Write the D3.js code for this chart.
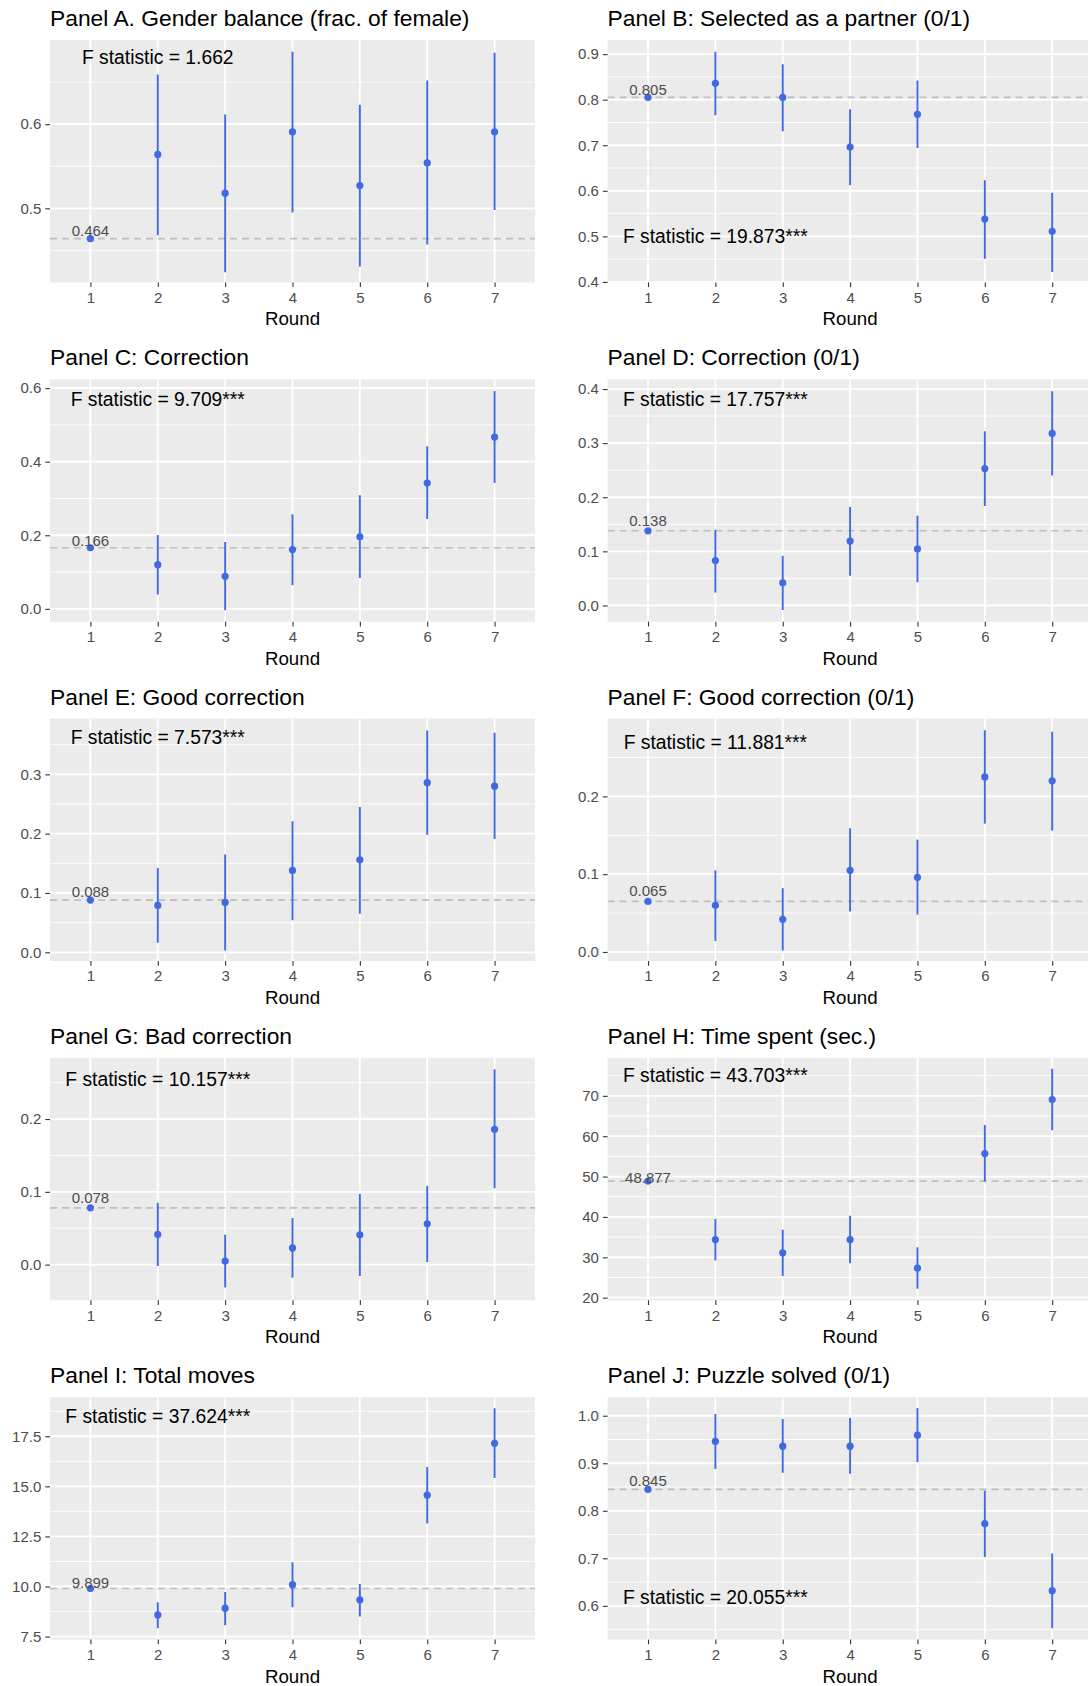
<!DOCTYPE html>
<html>
<head>
<meta charset="utf-8">
<script src="https://cdn.jsdelivr.net/npm/d3@7"></script>
<style>
  html, body { margin: 0; padding: 0; background: #ffffff; }
  svg { display: block; font-family: "Liberation Sans", Arial, Helvetica, sans-serif; }
</style>
</head>
<body>
<div id="chart"></div>
<script>
// ---------------- DATA ----------------
const rounds = [1, 2, 3, 4, 5, 6, 7];

const panelTitles = [
  "Panel A. Gender balance (frac. of female)",
  "Panel B: Selected as a partner (0/1)",
  "Panel C: Correction",
  "Panel D: Correction (0/1)",
  "Panel E: Good correction",
  "Panel F: Good correction (0/1)",
  "Panel G: Bad correction",
  "Panel H: Time spent (sec.)",
  "Panel I: Total moves",
  "Panel J: Puzzle solved (0/1)"
];

const fStatLabels = [
  "F statistic = 1.662",
  "F statistic = 19.873***",
  "F statistic = 9.709***",
  "F statistic = 17.757***",
  "F statistic = 7.573***",
  "F statistic = 11.881***",
  "F statistic = 10.157***",
  "F statistic = 43.703***",
  "F statistic = 37.624***",
  "F statistic = 20.055***"
];
// y (data units) at which each F statistic label is centred; x is round 2
const fStatY = [0.68, 0.5, 0.569, 0.381, 0.362, 0.2695, 0.254, 75.1, 18.51, 0.619];

const baselineValues = [0.464, 0.805, 0.166, 0.138, 0.088, 0.065, 0.078, 48.877, 9.899, 0.845];
const baselineLabels = ["0.464", "0.805", "0.166", "0.138", "0.088", "0.065", "0.078", "48.877", "9.899", "0.845"];

// point estimates per round (round 1 = baseline)
const means = [
  [0.464, 0.564, 0.518, 0.591, 0.527, 0.554, 0.591],
  [0.805, 0.836, 0.805, 0.696, 0.768, 0.538, 0.511],
  [0.166, 0.120, 0.0885, 0.161, 0.196, 0.342, 0.467],
  [0.138, 0.083, 0.042, 0.119, 0.1045, 0.253, 0.318],
  [0.088, 0.079, 0.084, 0.138, 0.156, 0.286, 0.280],
  [0.065, 0.060, 0.042, 0.105, 0.096, 0.225, 0.220],
  [0.078, 0.0415, 0.005, 0.023, 0.041, 0.056, 0.186],
  [48.877, 34.4, 31.1, 34.4, 27.3, 55.7, 69.1],
  [9.899, 8.58, 8.92, 10.09, 9.33, 14.56, 17.15],
  [0.845, 0.946, 0.936, 0.936, 0.959, 0.773, 0.632]
];
// lower ends of the confidence intervals (none for round 1)
const lows = [
  [null, 0.468, 0.424, 0.495, 0.431, 0.457, 0.498],
  [null, 0.766, 0.731, 0.612, 0.694, 0.451, 0.422],
  [null, 0.039, -0.004, 0.064, 0.084, 0.244, 0.342],
  [null, 0.024, -0.0085, 0.055, 0.043, 0.184, 0.240],
  [null, 0.016, 0.003, 0.054, 0.065, 0.198, 0.191],
  [null, 0.014, 0.002, 0.052, 0.048, 0.165, 0.156],
  [null, -0.002, -0.0315, -0.018, -0.0156, 0.0036, 0.105],
  [null, 29.2, 25.4, 28.5, 22.2, 48.8, 61.5],
  [null, 7.92, 8.07, 8.97, 8.50, 13.14, 15.42],
  [null, 0.888, 0.880, 0.878, 0.9025, 0.703, 0.553]
];
// upper ends of the confidence intervals (none for round 1)
const highs = [
  [null, 0.659, 0.6115, 0.686, 0.623, 0.652, 0.685],
  [null, 0.905, 0.878, 0.779, 0.842, 0.623, 0.596],
  [null, 0.201, 0.182, 0.257, 0.309, 0.442, 0.592],
  [null, 0.140, 0.092, 0.182, 0.166, 0.322, 0.396],
  [null, 0.142, 0.165, 0.221, 0.245, 0.374, 0.370],
  [null, 0.105, 0.082, 0.159, 0.1445, 0.285, 0.283],
  [null, 0.085, 0.041, 0.064, 0.097, 0.108, 0.2685],
  [null, 39.5, 36.8, 40.3, 32.5, 62.8, 76.7],
  [null, 9.22, 9.73, 11.21, 10.13, 15.97, 18.9],
  [null, 1.0036, 0.993, 0.995, 1.0162, 0.842, 0.710]
];

// visible y ranges and labelled y ticks
const yLimits = [
  [0.412, 0.700], [0.399, 0.931], [-0.035, 0.624], [-0.030, 0.418], [-0.0147, 0.394],
  [-0.0116, 0.300], [-0.049, 0.284], [19.35, 79.4], [7.35, 19.45], [0.529, 1.039]
];
const yTicks = [
  [0.5, 0.6],
  [0.4, 0.5, 0.6, 0.7, 0.8, 0.9],
  [0.0, 0.2, 0.4, 0.6],
  [0.0, 0.1, 0.2, 0.3, 0.4],
  [0.0, 0.1, 0.2, 0.3],
  [0.0, 0.1, 0.2],
  [0.0, 0.1, 0.2],
  [20, 30, 40, 50, 60, 70],
  [7.5, 10.0, 12.5, 15.0, 17.5],
  [0.6, 0.7, 0.8, 0.9, 1.0]
];
const yTickFormats = [".1f", ".1f", ".1f", ".1f", ".1f", ".1f", ".1f", "d", ".1f", ".1f"];
const xAxisTitle = "Round";

// ---------------- LAYOUT (presentation only) ----------------
const W = 1088, H = 1686;
const colX = [50, 607.6];
const plotW = 485, plotH = 242.4;
const rowTop0 = 40, rowPitch = 339.3;
const labelLift = [2.3, 2.7, 1.4, 4.7, 2.7, 5.3, 5.0, -2.3, 1.0, 3.3];

const BLUE = "#4169E1";
const PANEL_BG = "#EBEBEB";
const AXIS_TEXT = "#4D4D4D";

const svg = d3.select("#chart").append("svg")
  .attr("width", W).attr("height", H)
  .attr("viewBox", `0 0 ${W} ${H}`);
svg.append("rect").attr("width", W).attr("height", H).attr("fill", "#ffffff");

panelTitles.forEach((title, i) => {
  const col = i % 2, row = Math.floor(i / 2);
  const x0 = colX[col], y0 = rowTop0 + row * rowPitch;

  const x = d3.scalePoint().domain(rounds).range([x0, x0 + plotW]).padding(0.6);
  const y = d3.scaleLinear().domain(yLimits[i]).range([y0 + plotH, y0]);

  const g = svg.append("g");

  const clipId = "clip" + i;
  svg.append("clipPath").attr("id", clipId)
    .append("rect").attr("x", x0).attr("y", y0).attr("width", plotW).attr("height", plotH);

  g.append("rect").attr("x", x0).attr("y", y0).attr("width", plotW).attr("height", plotH)
    .attr("fill", PANEL_BG);

  const inner = g.append("g").attr("clip-path", `url(#${clipId})`);

  // minor gridlines: midpoints between majors, extended one step each side
  const maj = yTicks[i];
  const step = maj.length > 1 ? maj[1] - maj[0] : 0.1;
  const minors = [];
  minors.push(maj[0] - step / 2);
  for (let k = 0; k < maj.length - 1; k++) minors.push((maj[k] + maj[k + 1]) / 2);
  minors.push(maj[maj.length - 1] + step / 2);
  const dom = yLimits[i];
  const minorsIn = minors.filter(v => v >= dom[0] && v <= dom[1]);

  inner.selectAll(".minor").data(minorsIn).enter().append("line")
    .attr("x1", x0).attr("x2", x0 + plotW)
    .attr("y1", d => y(d)).attr("y2", d => y(d))
    .attr("stroke", "#ffffff").attr("stroke-width", 0.9);

  inner.selectAll(".majorY").data(maj).enter().append("line")
    .attr("x1", x0).attr("x2", x0 + plotW)
    .attr("y1", d => y(d)).attr("y2", d => y(d))
    .attr("stroke", "#ffffff").attr("stroke-width", 1.8);

  inner.selectAll(".majorX").data(rounds).enter().append("line")
    .attr("x1", d => x(d)).attr("x2", d => x(d))
    .attr("y1", y0).attr("y2", y0 + plotH)
    .attr("stroke", "#ffffff").attr("stroke-width", 1.8);

  // baseline dashed line
  inner.append("line")
    .attr("x1", x0).attr("x2", x0 + plotW)
    .attr("y1", y(baselineValues[i])).attr("y2", y(baselineValues[i]))
    .attr("stroke", "#BEBEBE").attr("stroke-width", 1.6)
    .attr("stroke-dasharray", "7,5");

  const pts = rounds.map((r, k) => ({ r, m: means[i][k], lo: lows[i][k], hi: highs[i][k] }));

  inner.selectAll(".err").data(pts.filter(d => d.lo !== null)).enter().append("line")
    .attr("x1", d => x(d.r)).attr("x2", d => x(d.r))
    .attr("y1", d => y(d.lo)).attr("y2", d => y(d.hi))
    .attr("stroke", BLUE).attr("stroke-width", 1.9);

  inner.selectAll(".pt").data(pts).enter().append("circle")
    .attr("cx", d => x(d.r)).attr("cy", d => y(d.m)).attr("r", 3.6)
    .attr("fill", BLUE);

  inner.append("text")
    .attr("x", x(1)).attr("y", y(baselineValues[i]) - labelLift[i])
    .attr("text-anchor", "middle")
    .attr("font-size", "15px").attr("fill", AXIS_TEXT)
    .text(baselineLabels[i]);

  inner.append("text")
    .attr("x", x(2)).attr("y", y(fStatY[i]))
    .attr("dy", "0.35em")
    .attr("text-anchor", "middle")
    .attr("font-size", "19.3px").attr("fill", "#000000")
    .text(fStatLabels[i]);

  const yAxis = d3.axisLeft(y).tickValues(maj).tickSize(4.7).tickPadding(4)
    .tickFormat(d3.format(yTickFormats[i]));
  const ya = g.append("g").attr("transform", `translate(${x0},0)`).call(yAxis);
  const xAxis = d3.axisBottom(x).tickSize(4.7).tickPadding(5);
  const xa = g.append("g").attr("transform", `translate(0,${y0 + plotH})`).call(xAxis);
  [ya, xa].forEach(a => {
    a.select(".domain").remove();
    a.selectAll(".tick line").attr("stroke", "#333333").attr("stroke-width", 1.1);
    a.selectAll(".tick text").attr("fill", AXIS_TEXT).attr("font-size", "15px")
      .attr("font-family", "'Liberation Sans', Arial, Helvetica, sans-serif");
  });

  g.append("text")
    .attr("x", x0 + plotW / 2).attr("y", y0 + plotH + 43)
    .attr("text-anchor", "middle")
    .attr("font-size", "18.7px").attr("fill", "#000000")
    .text(xAxisTitle);

  g.append("text")
    .attr("x", x0).attr("y", y0 - 14)
    .attr("font-size", "22.8px").attr("fill", "#000000")
    .text(title);
});
</script>
</body>
</html>
